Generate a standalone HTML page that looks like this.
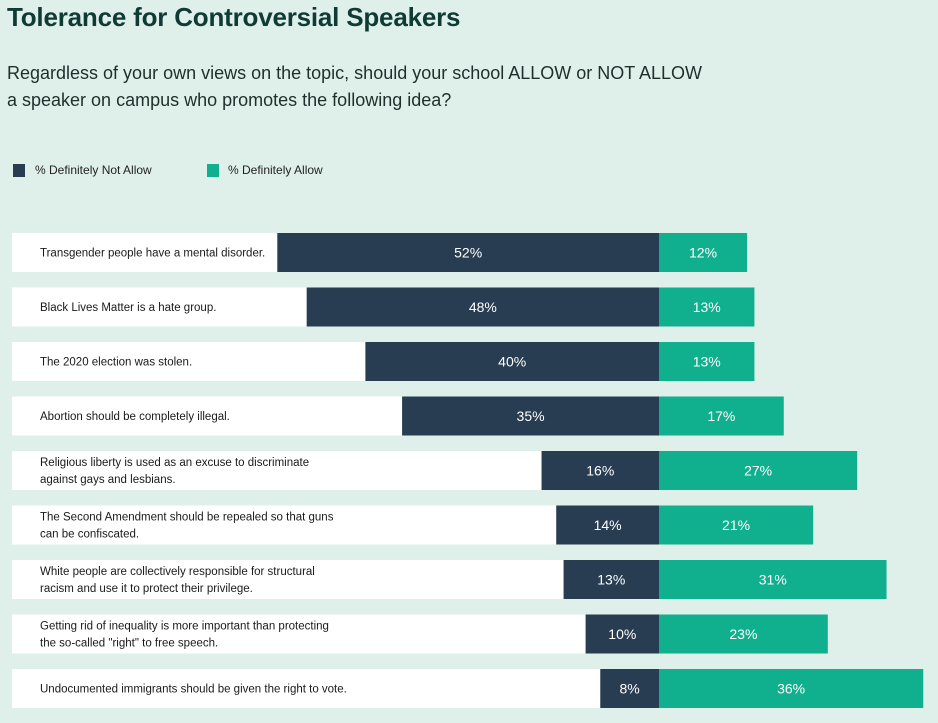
<!DOCTYPE html>
<html><head><meta charset="utf-8"><style>
body{margin:0;width:938px;height:723px;background:#dff0ea;font-family:"Liberation Sans",sans-serif;position:relative;overflow:hidden}
#title{position:absolute;left:7px;top:2px;font-size:26px;font-weight:bold;color:#0f3b34;letter-spacing:-0.2px}
#sub{position:absolute;left:7px;top:60px;font-size:18px;color:#1e2f2c;line-height:27px}
.leg{position:absolute;top:163px;font-size:12px;color:#222}
.sw{position:absolute;top:164px;width:12px;height:13px}
</style></head><body>
<div id="title">Tolerance for Controversial Speakers</div>
<div id="sub">Regardless of your own views on the topic, should your school ALLOW or NOT ALLOW<br>a speaker on campus who promotes the following idea?</div>
<div class="sw" style="left:13px;background:#283c52"></div>
<div class="leg" style="left:35px">% Definitely Not Allow</div>
<div class="sw" style="left:207px;background:#10b08f"></div>
<div class="leg" style="left:228px">% Definitely Allow</div>
<svg id="chart" width="938" height="723" style="position:absolute;left:0;top:0"></svg>
<script>
const categories=[["Transgender people have a mental disorder."],["Black Lives Matter is a hate group."],["The 2020 election was stolen."],["Abortion should be completely illegal."],["Religious liberty is used as an excuse to discriminate","against gays and lesbians."],["The Second Amendment should be repealed so that guns","can be confiscated."],["White people are collectively responsible for structural","racism and use it to protect their privilege."],["Getting rid of inequality is more important than protecting","the so-called \"right\" to free speech."],["Undocumented immigrants should be given the right to vote."]];
const notAllow=[52,48,40,35,16,14,13,10,8];
const allow=[12,13,13,17,27,21,31,23,36];
const svg=document.getElementById('chart');
const NS='http://www.w3.org/2000/svg';
const center=659,pxPer=7.34,top0=233,pitch=54.5,bh=39;
function x(v){return v*pxPer;}
function y(i){return top0+i*pitch;}
function mk(t,a){const e=document.createElementNS(NS,t);for(const k in a)e.setAttribute(k,a[k]);svg.appendChild(e);return e;}
categories.forEach((c,i)=>{
  const yy=y(i);
  const bg=mk('rect',{x:12,y:yy,width:center-x(notAllow[i])-12,height:bh,fill:'#fff'});
  
  
  const lines=c;
  lines.forEach((l,j)=>{
    const t=mk('text',{x:40,y:yy+bh/2+4-(lines.length-1)*8.5+j*17,'font-size':11.5,fill:'#1a1a1a'});
    t.textContent=l;
    
    
  });
  const b1=mk('rect',{x:center-x(notAllow[i]),y:yy,width:x(notAllow[i]),height:bh,fill:'#283c52'});
  
  
  const b2=mk('rect',{x:center,y:yy,width:x(allow[i]),height:bh,fill:'#10b08f'});
  
  
  const t1=mk('text',{x:center-x(notAllow[i])/2,y:yy+bh/2+5,'font-size':14,fill:'#fff','text-anchor':'middle'});
  t1.textContent=notAllow[i]+'%';
  
  
  const t2=mk('text',{x:center+x(allow[i])/2,y:yy+bh/2+5,'font-size':14,fill:'#fff','text-anchor':'middle'});
  t2.textContent=allow[i]+'%';
  
  
});
</script>
</body></html>
